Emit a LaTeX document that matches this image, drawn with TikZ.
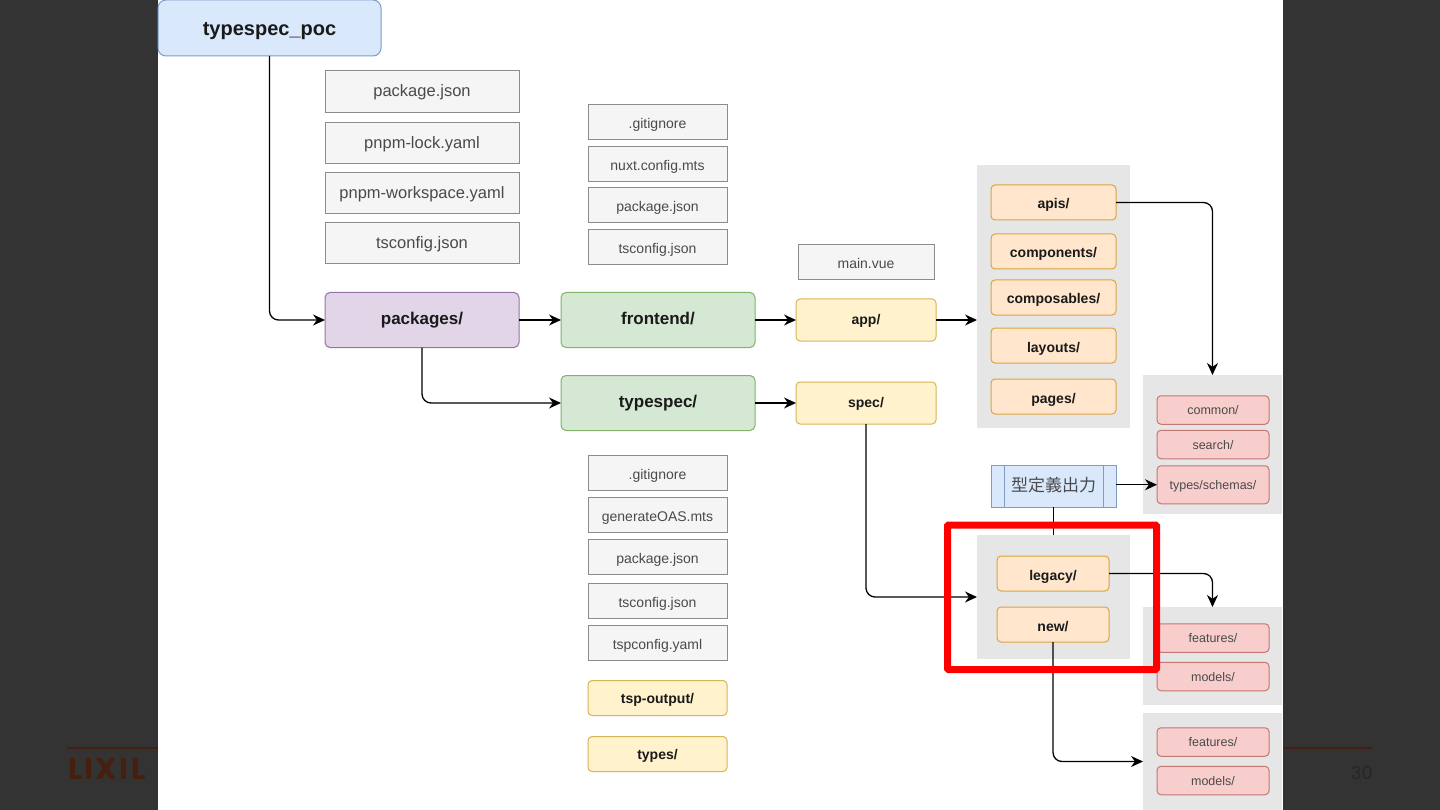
\documentclass[tikz,border=0pt]{standalone}
\usepackage{fontspec}
\setmainfont{Liberation Sans}
\newfontfamily\cjkfont{Noto Sans CJK JP}
\newfontfamily\footfont{Poppins}
\usepackage{xcolor}
\definecolor{slidedark}{HTML}{333333}
\definecolor{footbrown}{HTML}{45200F}
\definecolor{inkdark}{HTML}{1A1A1A}
\definecolor{inkgrey}{HTML}{4A4A4A}
\definecolor{panelgrey}{HTML}{E6E6E6}
\definecolor{fileface}{HTML}{F5F5F5}
\definecolor{fileline}{HTML}{8C8C8C}
\definecolor{blueface}{HTML}{DAE8FC}
\definecolor{blueline}{HTML}{7F9CC6}
\definecolor{purpleface}{HTML}{E1D5E7}
\definecolor{purpleline}{HTML}{9673A6}
\definecolor{greenface}{HTML}{D5E8D4}
\definecolor{greenline}{HTML}{82B366}
\definecolor{yellowface}{HTML}{FFF2CC}
\definecolor{yellowline}{HTML}{D6B656}
\definecolor{orangeface}{HTML}{FFE6CC}
\definecolor{orangeline}{HTML}{D9A441}
\definecolor{redface}{HTML}{F8CECC}
\definecolor{redline}{HTML}{B85450}
\usetikzlibrary{positioning,arrows.meta}

\begin{document}
\begin{tikzpicture}[
  x=1pt, y=-1pt,
  every node/.style={inner sep=0pt, outer sep=0pt, align=center},
  filebig/.style={draw=fileline, fill=fileface, text=inkgrey, line width=1pt,
                  minimum width=194pt, text height=12.5pt, text depth=3pt,
                  font=\fontsize{16.5}{18}\selectfont},
  filesmall/.style={draw=fileline, fill=fileface, text=inkgrey, line width=1pt,
                  minimum width=139pt, minimum height=35pt, text height=13pt, text depth=0pt,
                  font=\fontsize{14}{16}\selectfont},
  dirbig/.style={rounded corners=5pt, line width=1pt, text=inkdark,
                  minimum width=194pt, minimum height=55pt, text height=12.5pt, text depth=3.5pt,
                  font=\fontsize{17}{19}\selectfont\bfseries},
  dirmid/.style={draw=yellowline, fill=yellowface, rounded corners=4pt, line width=1pt, text=inkdark,
                  minimum width=140pt, minimum height=42pt, text height=10.5pt, text depth=2.5pt,
                  font=\fontsize{14}{16}\selectfont\bfseries},
  dirout/.style={draw=yellowline, fill=yellowface, rounded corners=4pt, line width=1pt, text=inkdark,
                  minimum width=139pt, minimum height=35pt, text height=11pt, text depth=1pt,
                  font=\fontsize{14}{16}\selectfont\bfseries},
  dirorange/.style={draw=orangeline, fill=orangeface, rounded corners=4pt, line width=1pt, text=inkdark,
                  minimum width=125pt, minimum height=35pt, text height=13pt, text depth=0pt,
                  font=\fontsize{14}{16}\selectfont\bfseries},
  dirsmall/.style={dirorange, minimum width=112pt},
  dirred/.style={draw=redline!80, fill=redface, rounded corners=4pt, line width=1pt, text=inkgrey,
                  minimum width=112pt, minimum height=28.5pt, text height=10.5pt, text depth=1.5pt,
                  font=\fontsize{12.5}{14}\selectfont},
  panel/.style={fill=panelgrey},
  arr/.style={-{Stealth[length=12pt,width=11pt]}, line width=1.3pt, color=black, rounded corners=9pt},
  link/.style={line width=1.3pt, color=black}
]
  \useasboundingbox (0,0) rectangle (1440,810);

  % slide behind the diagram
  \fill[slidedark] (0,0) rectangle (1440,810);
  \draw[footbrown, line width=1.2pt] (67,748) -- (1372,748);
  \node[text=footbrown, font=\fontsize{30}{32}\selectfont\footfont\bfseries\addfontfeature{LetterSpace=8}, anchor=west] (logo) at (68,769) {LIXIL};
  \node[text=black!85, font=\fontsize{18}{20}\selectfont\footfont] (pagenum) at (1362,773) {30};
  \fill[white] (158,0) rectangle (1283,810);

  % root and its files
  \node[draw=blueline, fill=blueface, rounded corners=8pt, line width=1pt, text=inkdark,
        minimum width=223pt, minimum height=56pt, text height=17pt, text depth=2pt,
        font=\fontsize{20}{22}\selectfont\bfseries] (poc) at (269.5,28) {typespec\_poc};
  \node[filebig, minimum height=42pt] (rootpkg) at (422,92) {package.json};
  \node[filebig, minimum height=41pt, below=10pt of rootpkg] (rootlock) {pnpm-lock.yaml};
  \node[filebig, minimum height=41pt, below=9pt of rootlock] (rootws) {pnpm-workspace.yaml};
  \node[filebig, minimum height=41pt, below=9pt of rootws] (roottsc) {tsconfig.json};

  % main row
  \node[dirbig, draw=purpleline, fill=purpleface] (packages) at (422,320) {packages/};
  \node[dirbig, draw=greenline, fill=greenface] (frontend) at (658,320) {frontend/};
  \node[dirbig, draw=greenline, fill=greenface, below=28pt of frontend] (typespec) {typespec/};
  \node[dirmid] (app) at (866,320) {app/};
  \node[dirmid] (spec) at (866,403) {spec/};
  \node[filesmall, minimum width=136pt] (mainvue) at (866,262.5) {main.vue};

  % frontend files
  \node[filesmall] (fegit) at (657.5,122.5) {.gitignore};
  \node[filesmall, below=7pt of fegit] (fenuxt) {nuxt.config.mts};
  \node[filesmall, below=6pt of fenuxt] (fepkg) {package.json};
  \node[filesmall, below=7pt of fepkg] (fetsc) {tsconfig.json};

  % typespec files
  \node[filesmall] (tsgit) at (657.5,473) {.gitignore};
  \node[filesmall, below=7pt of tsgit] (tsgen) {generateOAS.mts};
  \node[filesmall, below=7pt of tsgen] (tspkg) {package.json};
  \node[filesmall, below=9pt of tspkg] (tstsc) {tsconfig.json};
  \node[filesmall, below=7pt of tstsc] (tsconf) {tspconfig.yaml};
  \node[dirout, below=20pt of tsconf] (tspout) {tsp-output/};
  \node[dirout, below=21pt of tspout] (types) {types/};

  % frontend app folders
  \node[panel, minimum width=153pt, minimum height=263pt] (apppanel) at (1053.5,296.5) {};
  \node[dirorange] (apis) at (1053.5,202.5) {apis/};
  \node[dirorange, below=14pt of apis] (components) {components/};
  \node[dirorange, below=11pt of components] (composables) {composables/};
  \node[dirorange, below=13pt of composables] (layouts) {layouts/};
  \node[dirorange, below=16pt of layouts] (pages) {pages/};

  % generated types
  \node[panel, minimum width=139pt, minimum height=139pt] (sharedpanel) at (1212.5,444.5) {};
  \node[dirred] (common) at (1213,410) {common/};
  \node[dirred, below=6pt of common] (search) {search/};
  \node[dirred, minimum height=38pt, below=7pt of search] (schemas) {types/schemas/};
  \node[draw=blueline, fill=blueface, line width=0.9pt, text=inkgrey, minimum width=125pt, minimum height=42pt,
        text height=17pt, text depth=6pt, font=\fontsize{17}{19}\selectfont\cjkfont] (typegen) at (1053.5,486) {型定義出力};
  \draw[blueline, line width=0.9pt] ([xshift=13pt]typegen.north west) -- ([xshift=13pt]typegen.south west);
  \draw[blueline, line width=0.9pt] ([xshift=-13pt]typegen.north east) -- ([xshift=-13pt]typegen.south east);

  % spec folders
  \draw[link] (typegen.south) -- (1053.5,535);
  \node[panel, minimum width=153pt, minimum height=124pt] (specpanel) at (1053.5,597) {};
  \node[dirsmall] (legacy) at (1053,573.5) {legacy/};
  \node[dirsmall, below=16pt of legacy] (newdir) {new/};

  \node[panel, minimum width=139pt, minimum height=98pt] (legacypanel) at (1212.5,656) {};
  \node[dirred] (legacyfeat) at (1213,638) {features/};
  \node[dirred, below=10pt of legacyfeat] (legacymodel) {models/};
  \node[panel, minimum width=139pt, minimum height=97pt] (newpanel) at (1212.5,761.5) {};
  \node[dirred] (newfeat) at (1213,742) {features/};
  \node[dirred, below=10pt of newfeat] (newmodel) {models/};

  \draw[arr] (poc.south) |- (packages.west);
  \draw[arr] (packages.east) -- (frontend.west);
  \draw[arr] (frontend.east) -- (app.west);
  \draw[arr] (app.east) -- (app.east -| apppanel.west);
  \draw[arr] (packages.south) |- (typespec.west);
  \draw[arr] (typespec.east) -- (spec.west);
  \draw[arr] (spec.south) |- (specpanel.west);
  \draw[arr] (apis.east) -| (sharedpanel.north);
  \draw[arr] (typegen.east |- schemas.west) -- (schemas.west);
  \draw[arr] (legacy.east) -| (legacypanel.north);
  \draw[arr] (newdir.south) |- (newpanel.west);

  % highlight
  \draw[red, line width=7pt, rounded corners=1pt] (947.5,525) rectangle (1156.5,669.5);
\end{tikzpicture}
\end{document}
